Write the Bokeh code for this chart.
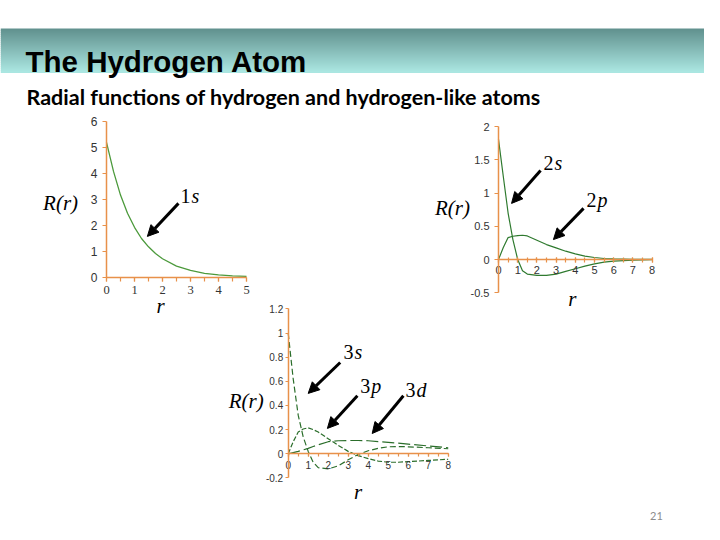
from bokeh.plotting import figure
from bokeh.layouts import column, row, Spacer
from bokeh.models import (Range1d, FixedTicker, Arrow, NormalHead, ColumnDataSource,
                          NumeralTickFormatter)
from bokeh.core.properties import value
from bokeh.embed import file_html
from bokeh.resources import INLINE

# ---------------- data ----------------
r_1 = [0, 0.25, 0.5, 0.75, 1, 1.25, 1.5, 1.75, 2, 2.5, 3, 3.5, 4, 4.5, 5]
R_1s = [5.2, 4.08, 3.17, 2.47, 1.93, 1.5, 1.18, 0.92, 0.72, 0.44, 0.27, 0.16, 0.1, 0.06, 0.04]

r_2 = [0, 0.25, 0.5, 0.75, 1, 1.25, 1.5, 2, 2.5, 3, 3.5, 4, 4.5, 5, 5.5, 6, 7, 8]
R_2s = [1.81, 1.25, 0.7, 0.3, 0.0, -0.17, -0.22, -0.24, -0.24, -0.22, -0.18, -0.14, -0.1, -0.065, -0.04, -0.025, -0.01, -0.003]
R_2p = [0, 0.18, 0.33, 0.35, 0.36, 0.365, 0.355, 0.29, 0.225, 0.175, 0.125, 0.085, 0.05, 0.03, 0.015, 0.01, 0.004, 0.001]

r_3 = [0, 0.25, 0.5, 0.75, 1, 1.25, 1.5, 2, 2.5, 3, 3.5, 4, 4.5, 5, 5.5, 6, 7, 8]
R_3s = [1.0, 0.62, 0.32, 0.14, 0.02, -0.07, -0.115, -0.125, -0.1, -0.05, -0.005, 0.025, 0.045, 0.058, 0.06, 0.058, 0.05, 0.042]
R_3p = [0, 0.1, 0.18, 0.205, 0.215, 0.2, 0.18, 0.125, 0.07, 0.02, -0.015, -0.04, -0.06, -0.07, -0.07, -0.065, -0.055, -0.045]
R_3d = [0, 0.01, 0.02, 0.032, 0.045, 0.06, 0.075, 0.1, 0.108, 0.11, 0.11, 0.108, 0.1, 0.095, 0.088, 0.08, 0.065, 0.05]

ticks_1x = [0, 1, 2, 3, 4, 5]
ticks_1y = [0, 1, 2, 3, 4, 5, 6]
ticks_2x = [0, 1, 2, 3, 4, 5, 6, 7, 8]
ticks_2y = [-0.5, 0, 0.5, 1, 1.5, 2]
ticks_3x = [0, 1, 2, 3, 4, 5, 6, 7, 8]
ticks_3y = [-0.2, 0, 0.2, 0.4, 0.6, 0.8, 1, 1.2]

title_text = "The Hydrogen Atom"
subtitle_text = "Radial functions of hydrogen and hydrogen-like atoms"
page_number = "21"
y_label = "R(r)"
x_label = "r"

# annotation labels / arrows (data coordinates of each panel)
lab1_num, lab1_let = ["1"], ["s"]
lab1_x, lab1_y = [3.0], [3.15]
arr1 = dict(x0=[2.57], y0=[2.85], x1=[1.46], y1=[1.58])

lab2_num, lab2_let = ["2", "2"], ["s", "p"]
lab2_x, lab2_y = [2.86, 5.1], [1.46, 0.89]
arr2 = dict(x0=[2.19, 4.43], y0=[1.34, 0.77], x1=[0.68, 2.86], y1=[0.845, 0.30])

lab3_num, lab3_let = ["3", "3", "3"], ["s", "p", "d"]
lab3_x, lab3_y = [3.27, 4.1, 6.37], [0.84, 0.56, 0.53]
arr3 = dict(x0=[2.6, 3.46, 5.76], y0=[0.756, 0.48, 0.48], x1=[1.0, 1.96, 4.2], y1=[0.5, 0.21, 0.168])

AXIS = "#e8914a"
SERIF = value("Liberation Serif")
SANS = value("Liberation Sans")


def panel(left, top, width, height, x0, xu, y0, yu):
    """figure whose frame is the whole box; x0/y0 = page pixel of the origin"""
    xr = Range1d((left - x0) / xu, (left + width - x0) / xu)
    yr = Range1d((y0 - (top + height)) / yu, (y0 - top) / yu)
    p = figure(width=width, height=height, x_range=xr, y_range=yr,
               output_backend="svg", toolbar_location=None, min_border=0)
    p.border_fill_color = None
    p.background_fill_color = None
    p.outline_line_color = None
    p.grid.visible = False
    for ax in (p.xaxis[0], p.yaxis[0]):
        ax.fixed_location = 0
        ax.axis_line_color = AXIS
        ax.axis_line_width = 1.5
        ax.major_tick_line_color = AXIS
        ax.minor_tick_line_color = AXIS
        ax.major_tick_line_width = 1.2
        ax.minor_tick_line_width = 1.2
        ax.major_tick_in = 0
        ax.minor_tick_in = 0
        ax.major_label_text_color = "#333333"
        ax.major_label_text_font = "Liberation Sans"
        ax.formatter = NumeralTickFormatter(format="0.[0]")
    p.yaxis[0].minor_tick_out = 0
    return p


def add_labels(p, xs, ys, nums, lets, arr, label_xy, size="20px"):
    src = ColumnDataSource(dict(x=xs, y=ys, num=nums, let=lets))
    p.text(x="x", y="y", text="num", source=src, text_font=SERIF, text_font_size=size,
           text_align="right", text_baseline="middle", text_color="black")
    p.text(x="x", y="y", text="let", source=src, text_font=SERIF, text_font_size=size,
           text_font_style="italic", text_align="left", text_baseline="middle",
           text_color="black", x_offset=1)
    asrc = ColumnDataSource(arr)
    p.add_layout(Arrow(x_start="x0", y_start="y0", x_end="x1", y_end="y1", source=asrc,
                       line_width=3, line_color="black",
                       end=NormalHead(size=11, fill_color="black", line_color="black")))
    (yl_x, yl_y), (xl_x, xl_y) = label_xy
    p.text(x=[yl_x], y=[yl_y], text=[y_label], text_font=SERIF, text_font_style="italic",
           text_font_size="21px", text_align="center", text_baseline="middle", text_color="black")
    p.text(x=[xl_x], y=[xl_y], text=[x_label], text_font=SERIF, text_font_style="italic",
           text_font_size="21px", text_align="center", text_baseline="middle", text_color="black")


# ---------------- header ----------------
HEAD_H = 114
header = figure(width=704, height=HEAD_H, x_range=Range1d(0, 704), y_range=Range1d(HEAD_H, 0),
                output_backend="svg", toolbar_location=None, min_border=0,
                x_axis_type=None, y_axis_type=None)
header.outline_line_color = None
header.grid.visible = False
top_rgb, bot_rgb = (98, 146, 143), (170, 230, 225)
n = 22
tops, bots, cols = [], [], []
for i in range(n):
    t = i / (n - 1)
    c = tuple(int(round(a + (b - a) * t)) for a, b in zip(top_rgb, bot_rgb))
    tops.append(28 + i * 2)
    bots.append(28 + i * 2 + 2.4)
    cols.append("#%02x%02x%02x" % c)
header.quad(left=0, right=720, top=tops, bottom=bots, fill_color=cols, line_color=None)
header.text(x=[25], y=[60.5], text=[title_text], text_font=SANS, text_font_style="bold",
            text_font_size="29.5px", text_baseline="alphabetic", text_color="black")
header.text(x=[26], y=[96.5], text=[subtitle_text], text_font=value("Lato"),
            text_font_style="bold", text_font_size="21.5px", text_baseline="alphabetic",
            text_color="black")

# ---------------- panel 1: 1s ----------------
ROW_H = 318 - HEAD_H
p1 = panel(30, HEAD_H, 228, ROW_H, 106, 28, 277, 26)
p1.xaxis.bounds = (0, 5)
p1.yaxis.bounds = (0, 6)
p1.xaxis.ticker = FixedTicker(ticks=ticks_1x, minor_ticks=[i * 0.5 for i in range(11)])
p1.yaxis.ticker = FixedTicker(ticks=ticks_1y)
p1.xaxis.major_tick_out = 4
p1.xaxis.minor_tick_out = 4
p1.yaxis.major_tick_out = 4
p1.xaxis.major_label_text_font = "Liberation Serif"
p1.xaxis.major_label_text_font_size = "12.5px"
p1.yaxis.major_label_text_font_size = "12px"
p1.xaxis.major_label_standoff = 4
p1.yaxis.major_label_standoff = 5
p1.line(r_1, R_1s, line_color="#4c9a3c", line_width=1.3)
add_labels(p1, lab1_x, lab1_y, lab1_num, lab1_let, arr1, ((-1.64, 2.85), (1.93, -1.115)))

# ---------------- panel 2: 2s, 2p ----------------
p2 = panel(422, HEAD_H, 254, ROW_H, 498, 19.2, 259, 66.4)
p2.xaxis.bounds = (0, 8)
p2.yaxis.bounds = (-0.5, 2)
p2.xaxis.ticker = FixedTicker(ticks=ticks_2x, minor_ticks=[i * 0.5 for i in range(17)])
p2.yaxis.ticker = FixedTicker(ticks=ticks_2y)
p2.xaxis.major_tick_out = 3
p2.xaxis.major_tick_in = 2
p2.xaxis.minor_tick_out = 3
p2.xaxis.minor_tick_in = 2
p2.yaxis.major_tick_out = 4
p2.axis.major_label_text_font_size = "11px"
p2.xaxis.major_label_standoff = 3
p2.yaxis.major_label_standoff = 5
p2.line(r_2, R_2s, line_color="#2f7a2f", line_width=1.2)
p2.line(r_2, R_2p, line_color="#2f7a2f", line_width=1.2)
add_labels(p2, lab2_x, lab2_y, lab2_num, lab2_let, arr2, ((-2.4, 0.77), (3.85, -0.59)))

# ---------------- panel 3: 3s, 3p, 3d ----------------
p3 = panel(222, 298, 240, 210, 287.7, 20, 453.3, 120.8)
p3.xaxis.bounds = (0, 8)
p3.yaxis.bounds = (-0.2, 1.2)
p3.xaxis.ticker = FixedTicker(ticks=ticks_3x, minor_ticks=[i * 0.5 for i in range(17)])
p3.yaxis.ticker = FixedTicker(ticks=ticks_3y)
p3.xaxis.major_tick_out = 3
p3.xaxis.minor_tick_out = 3
p3.yaxis.major_tick_out = 3
p3.axis.major_label_text_font_size = "10px"
p3.xaxis.major_label_standoff = 4
p3.yaxis.major_label_standoff = 2
p3.line(r_3, R_3s, line_color="#2b6e2b", line_width=1.2, line_dash="6 3")
p3.line(r_3, R_3p, line_color="#2b6e2b", line_width=1.2, line_dash="5 2")
p3.line(r_3, R_3d, line_color="#2b6e2b", line_width=1.2, line_dash="12 4")
add_labels(p3, lab3_x, lab3_y, lab3_num, lab3_let, arr3, ((-2.1, 0.433), (3.5, -0.32)))

# ---------------- page number ----------------
pn = figure(width=40, height=14, x_range=Range1d(636, 676), y_range=Range1d(522, 508),
            output_backend="svg", toolbar_location=None, min_border=0,
            x_axis_type=None, y_axis_type=None)
pn.outline_line_color = None
pn.grid.visible = False
pn.text(x=[656], y=[515], text=[page_number], text_font=value("Lato"), text_font_size="11px",
        text_align="center", text_baseline="middle", text_color="#8c8c8c")

rowA = row(Spacer(width=30, height=ROW_H), p1, Spacer(width=164, height=ROW_H), p2)
rowB = row(Spacer(width=222, height=210), p3)
rowB.margin = (-20, 0, 0, 0)
rowC = row(Spacer(width=636, height=14), pn)
layout = column(header, rowA, rowB, rowC)

open("out.html", "w").write(file_html(layout, INLINE))
